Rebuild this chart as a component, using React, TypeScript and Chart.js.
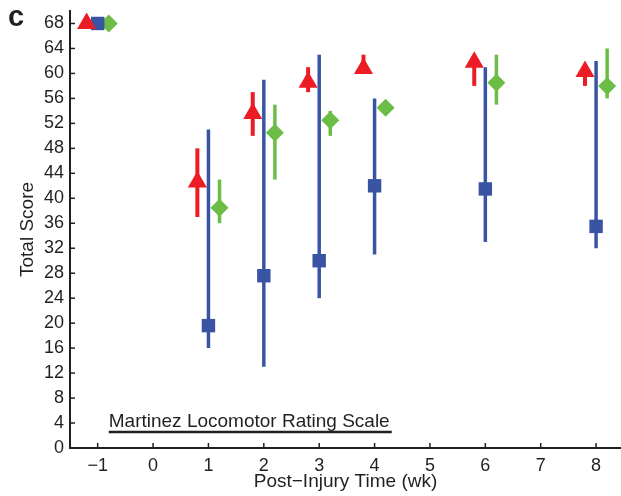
import React, { useEffect, useRef } from 'react';
import { Chart, registerables } from 'chart.js';

Chart.register(...registerables);

// ---- data ----
const weeks = [-1, 1, 2, 3, 4, 6, 8];
const redMean = [68, 42.6, 53.6, 58.6, 60.8, 61.8, 60.3];
const redLow = [68, 37, 50, 57, 60, 58, 58];
const redHigh = [68, 48, 57, 61, 63, 62, 61];
const blueMean = [68, 19.6, 27.6, 30, 42, 41.5, 35.5];
const blueLow = [68, 16, 13, 24, 31, 33, 32];
const blueHigh = [68, 51, 59, 63, 56, 61, 62];
const greenMean = [68, 38.5, 50.5, 52.5, 54.5, 58.5, 58];
const greenLow = [68, 36, 43, 50, 53.5, 55, 56];
const greenHigh = [68, 43, 55, 54, 55.5, 63, 64];
const xTicks = [-1, 0, 1, 2, 3, 4, 5, 6, 7, 8];
const yTicks = [0, 4, 8, 12, 16, 20, 24, 28, 32, 36, 40, 44, 48, 52, 56, 60, 64, 68];
const groupOffsets = [-0.2, 0, 0.2];

const panelLabel = 'c';
const annotationText = 'Martinez Locomotor Rating Scale';
const annotationStart = -0.8;
const annotationEnd = 4.31;
const annotationTextY = 3.3;
const annotationLineY = 2.55;

const RED = '#ec1c24';
const BLUE = '#3a54a4';
const GREEN = '#6cbd45';
const AXIS = '#231f20';
const FONT = '"Liberation Sans", Arial, Helvetica, sans-serif';

const errLow = [redLow, blueLow, greenLow];
const errHigh = [redHigh, blueHigh, greenHigh];
const errWidth = [4, 3.5, 3.5];

const errorBarPlugin = {
  id: 'errorBars',
  beforeDatasetsDraw(chart: any) {
    const ctx = chart.ctx;
    const ys = chart.scales.y;
    ctx.save();
    ctx.lineCap = 'butt';
    chart.data.datasets.forEach((ds: any, i: number) => {
      const meta = chart.getDatasetMeta(i);
      ctx.strokeStyle = ds.backgroundColor;
      ctx.lineWidth = errWidth[i];
      meta.data.forEach((pt: any, j: number) => {
        const lo = errLow[i][j];
        const hi = errHigh[i][j];
        if (lo === hi) return;
        ctx.beginPath();
        ctx.moveTo(pt.x, ys.getPixelForValue(lo));
        ctx.lineTo(pt.x, ys.getPixelForValue(hi));
        ctx.stroke();
      });
    });
    ctx.restore();
  },
};

const decorPlugin = {
  id: 'decor',
  afterDraw(chart: any) {
    const ctx = chart.ctx;
    const xs = chart.scales.x;
    const ys = chart.scales.y;
    const area = chart.chartArea;
    ctx.save();
    // inward ticks
    ctx.strokeStyle = AXIS;
    ctx.lineWidth = 1.5;
    xTicks.forEach((v) => {
      const px = xs.getPixelForValue(v);
      ctx.beginPath();
      ctx.moveTo(px, area.bottom);
      ctx.lineTo(px, area.bottom - 5);
      ctx.stroke();
    });
    yTicks.forEach((v) => {
      const py = ys.getPixelForValue(v);
      ctx.beginPath();
      ctx.moveTo(area.left, py);
      ctx.lineTo(area.left + 5, py);
      ctx.stroke();
    });
    // annotation
    ctx.fillStyle = AXIS;
    ctx.font = `19px ${FONT}`;
    ctx.textAlign = 'left';
    ctx.textBaseline = 'alphabetic';
    const ax0 = xs.getPixelForValue(annotationStart);
    const ax1 = xs.getPixelForValue(annotationEnd);
    ctx.fillText(annotationText, ax0, ys.getPixelForValue(annotationTextY));
    ctx.lineWidth = 2.5;
    ctx.beginPath();
    const ly = ys.getPixelForValue(annotationLineY);
    ctx.moveTo(ax0, ly);
    ctx.lineTo(ax1, ly);
    ctx.stroke();
    // panel label
    ctx.font = `bold 29px ${FONT}`;
    ctx.fillText(panelLabel, 8, 26);
    ctx.restore();
  },
};

const minus = (v: number) => String(v).replace('-', '\u2212');

export default function App() {
  const ref = useRef<HTMLCanvasElement>(null);
  useEffect(() => {
    if (!ref.current) return;
    const mk = (vals: number[], k: number) =>
      weeks.map((w, j) => ({ x: w + groupOffsets[k], y: vals[j] }));
    const chart = new Chart(ref.current, {
      type: 'scatter',
      data: {
        datasets: [
          {
            label: 'red',
            data: mk(redMean, 0),
            backgroundColor: RED,
            borderColor: RED,
            borderWidth: 0,
            pointStyle: 'triangle',
            pointRadius: 11,
          },
          {
            label: 'blue',
            data: mk(blueMean, 1),
            backgroundColor: BLUE,
            borderColor: BLUE,
            borderWidth: 0,
            pointStyle: 'rect',
            pointRadius: 9.5,
          },
          {
            label: 'green',
            data: mk(greenMean, 2),
            backgroundColor: GREEN,
            borderColor: GREEN,
            borderWidth: 0,
            pointStyle: 'rectRot',
            pointRadius: 9,
          },
        ],
      },
      options: {
        animation: false,
        responsive: false,
        maintainAspectRatio: false,
        layout: { autoPadding: false, padding: { left: 0, right: 0, top: 11, bottom: 0 } },
        plugins: {
          legend: { display: false },
          tooltip: { enabled: false },
        },
        scales: {
          x: {
            type: 'linear',
            min: -1.5,
            max: 8.45,
            afterBuildTicks: (s: any) => {
              s.ticks = xTicks.map((v) => ({ value: v }));
            },
            afterFit: (s: any) => {
              s.height = 48;
              s.paddingLeft = 0;
              s.paddingRight = 0;
            },
            grid: { display: false, drawTicks: false },
            border: { display: true, color: AXIS, width: 2 },
            ticks: {
              color: AXIS,
              font: { family: FONT, size: 18 },
              padding: 7,
              callback: (v: any) => minus(v),
            },
            title: {
              display: true,
              text: 'Post\u2212Injury Time (wk)',
              color: AXIS,
              font: { family: FONT, size: 19 },
              padding: { top: 0, bottom: 3 },
            },
          },
          y: {
            type: 'linear',
            min: 0,
            max: 70,
            afterBuildTicks: (s: any) => {
              s.ticks = yTicks.map((v) => ({ value: v }));
            },
            afterFit: (s: any) => {
              s.width = 70;
              s.paddingTop = 0;
              s.paddingBottom = 0;
            },
            grid: { display: false, drawTicks: false },
            border: { display: true, color: AXIS, width: 2 },
            ticks: {
              color: AXIS,
              font: { family: FONT, size: 18 },
              padding: 6,
            },
            title: {
              display: true,
              text: 'Total Score',
              color: AXIS,
              font: { family: FONT, size: 19 },
              padding: { top: 16, bottom: 0 },
            },
          },
        },
      },
      plugins: [errorBarPlugin, decorPlugin],
    });
    return () => chart.destroy();
  }, []);
  return (
    <div style={{ position: 'fixed', left: 0, top: 0, width: 621, height: 496, background: '#fff' }}>
      <canvas ref={ref} width={621} height={496} style={{ width: 621, height: 496 }} />
    </div>
  );
}
